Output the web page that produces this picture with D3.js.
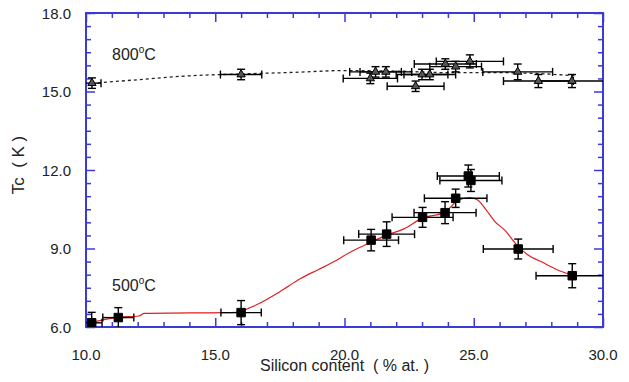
<!DOCTYPE html>
<html>
<head>
<meta charset="utf-8">
<script src="https://cdn.jsdelivr.net/npm/d3@7"></script>
<style>
  body { margin: 0; background: #fff; }
  svg text { font-family: Arial, "Liberation Sans", sans-serif; fill: #222; white-space: pre; }
</style>
</head>
<body>
<div class="chart"></div>
<script>
// data
const si800    = [10.23, 16.0, 21.0, 21.2, 21.6, 22.75, 23.0, 23.3, 23.9, 24.3, 24.85, 26.7, 27.5, 28.8];
const tc800    = [15.32, 15.65, 15.5, 15.75, 15.75, 15.2, 15.65, 15.65, 16.05, 15.95, 16.15, 15.75, 15.4, 15.4];
const siErr800 = [0.35, 0.8, 1.05, 1.0, 1.0, 1.1, 1.0, 1.0, 1.2, 1.0, 1.3, 1.35, 1.35, 1.3];
const tcErr800 = [0.2, 0.2, 0.2, 0.2, 0.2, 0.2, 0.2, 0.2, 0.2, 0.2, 0.25, 0.3, 0.25, 0.25];

const si500    = [10.22, 11.25, 16.0, 21.03, 21.63, 23.02, 23.89, 24.3, 24.79, 24.89, 26.72, 28.81];
const tc500    = [6.16, 6.36, 6.55, 9.32, 9.55, 10.19, 10.37, 10.92, 11.77, 11.6, 8.98, 7.96];
const siErr500 = [0.4, 0.6, 0.78, 1.06, 1.08, 1.18, 1.2, 1.21, 1.2, 1.2, 1.35, 1.4];
const tcErr500 = [0.4, 0.38, 0.46, 0.41, 0.47, 0.38, 0.42, 0.35, 0.42, 0.42, 0.38, 0.46];

// guide curves
const fitSi800 = [10.23, 12, 14, 16, 18, 20, 22, 24, 26, 28, 28.9];
const fitTc800 = [15.31, 15.45, 15.6, 15.67, 15.73, 15.8, 15.78, 15.72, 15.72, 15.66, 15.6];
const fitSi500 = [10.22, 11.2, 12.05, 12.25, 15.9, 16.3, 16.6, 17.5, 18.3, 19.0, 19.6, 20.2, 20.9, 21.6, 22.3, 23.0, 23.9, 24.4, 24.85, 25.15, 25.5, 25.8, 26.2, 26.7, 27.1, 27.6, 28.2, 28.8];
const fitTc500 = [6.18, 6.37, 6.42, 6.52, 6.56, 6.72, 6.85, 7.35, 7.85, 8.2, 8.5, 8.85, 9.18, 9.5, 9.75, 10.15, 10.4, 10.85, 10.95, 10.85, 10.45, 10.05, 9.7, 9.1, 8.75, 8.5, 8.2, 7.98];

const xMajor = [10, 15, 20, 25, 30];
const yMajor = [6, 9, 12, 15, 18];

// Constants
const W = 629, H = 382;
const margin = { top: 13, right: 26, bottom: 55, left: 86 },
    width = W - margin.left - margin.right,
    height = H - margin.top - margin.bottom;

const axisBlue = "#3a3ad8";

const x = d3.scaleLinear().domain([10, 30]).range([0, width]);
const y = d3.scaleLinear().domain([6, 18]).range([height, 0]);

const svg = d3.select(".chart").append("svg")
    .attr("width", W)
    .attr("height", H)
    .append("g")
    .attr("transform", "translate(" + margin.left + "," + margin.top + ")");

svg.append("clipPath").attr("id", "clip")
    .append("rect").attr("width", width).attr("height", height);

// inward ticks on all four sides
const xMinor = d3.range(10, 30.01, 1).filter(v => !xMajor.includes(v));
const yMinor = d3.range(6, 18.01, 0.5).filter(v => !yMajor.includes(v));

function tickAxis(axisFn, scale, values, len) {
    return axisFn(scale).tickValues(values).tickSize(-len).tickFormat("");
}

function styleAxis(g) {
    g.select(".domain").remove();
    g.selectAll(".tick line").attr("stroke", axisBlue).attr("stroke-width", 1.5);
}

[[xMinor, 5], [xMajor, 9]].forEach(([vals, len]) => {
    svg.append("g").attr("transform", "translate(0," + height + ")")
        .call(tickAxis(d3.axisBottom, x, vals, len)).call(styleAxis);
    svg.append("g")
        .call(tickAxis(d3.axisTop, x, vals, len)).call(styleAxis);
});
[[yMinor, 5], [yMajor, 9]].forEach(([vals, len]) => {
    svg.append("g")
        .call(tickAxis(d3.axisLeft, y, vals, len)).call(styleAxis);
    svg.append("g").attr("transform", "translate(" + width + ",0)")
        .call(tickAxis(d3.axisRight, y, vals, len)).call(styleAxis);
});

// frame
svg.append("rect")
    .attr("width", width).attr("height", height)
    .attr("fill", "none")
    .attr("stroke", axisBlue)
    .attr("stroke-width", 2);

// tick labels
svg.selectAll(".xlab").data(xMajor).enter().append("text")
    .attr("x", d => x(d))
    .attr("y", height + 33)
    .attr("text-anchor", "middle")
    .style("font-size", "15px")
    .text(d => d.toFixed(1));

svg.selectAll(".ylab").data(yMajor).enter().append("text")
    .attr("x", -15)
    .attr("y", d => y(d) + 5.5)
    .attr("text-anchor", "end")
    .style("font-size", "15px")
    .text(d => d.toFixed(1));

// axis titles
svg.append("text")
    .attr("x", x(20))
    .attr("y", height + 44)
    .attr("text-anchor", "middle")
    .style("font-size", "16px")
    .text("Silicon content  ( % at. )");

svg.append("text")
    .attr("transform", "translate(" + (-62) + "," + 152 + ") rotate(-90)")
    .attr("text-anchor", "middle")
    .style("font-size", "17px")
    .text("Tc  ( K )");

// guide lines
const line = d3.line().x(d => x(d[0])).y(d => y(d[1])).curve(d3.curveMonotoneX);

const plot = svg.append("g").attr("clip-path", "url(#clip)");

plot.append("path")
    .datum(fitSi800.map((s, i) => [s, fitTc800[i]]))
    .attr("d", line)
    .attr("fill", "none")
    .attr("stroke", "#222")
    .attr("stroke-width", 1.3)
    .attr("stroke-dasharray", "3,3");

plot.append("path")
    .datum(fitSi500.map((s, i) => [s, fitTc500[i]]))
    .attr("d", line)
    .attr("fill", "none")
    .attr("stroke", "#e02020")
    .attr("stroke-width", 1.2);

// error bars + markers
function drawSeries(si, tc, siErr, tcErr, symbol, size, fill) {
    const pts = si.map((s, i) => ({ s: s, t: tc[i], ds: siErr[i], dt: tcErr[i] }));
    const g = plot.append("g").attr("stroke", "#000").attr("stroke-width", 1.4);
    const cap = 4;

    pts.forEach(d => {
        const cx = x(d.s), cy = y(d.t);
        const xl = x(d.s - d.ds), xr = x(d.s + d.ds);
        const yt = y(d.t + d.dt), yb = y(d.t - d.dt);
        g.append("line").attr("x1", xl).attr("x2", xr).attr("y1", cy).attr("y2", cy);
        g.append("line").attr("x1", xl).attr("x2", xl).attr("y1", cy - cap).attr("y2", cy + cap);
        g.append("line").attr("x1", xr).attr("x2", xr).attr("y1", cy - cap).attr("y2", cy + cap);
        g.append("line").attr("x1", cx).attr("x2", cx).attr("y1", yt).attr("y2", yb);
        g.append("line").attr("x1", cx - cap).attr("x2", cx + cap).attr("y1", yt).attr("y2", yt);
        g.append("line").attr("x1", cx - cap).attr("x2", cx + cap).attr("y1", yb).attr("y2", yb);
    });

    plot.selectAll(null).data(pts).enter().append("path")
        .attr("d", d3.symbol().type(symbol).size(size))
        .attr("transform", d => "translate(" + x(d.s) + "," + y(d.t) + ")")
        .attr("fill", fill)
        .attr("stroke", "#000")
        .attr("stroke-width", 1);
}

drawSeries(si800, tc800, siErr800, tcErr800, d3.symbolTriangle, 30, "#555");
drawSeries(si500, tc500, siErr500, tcErr500, d3.symbolSquare, 72, "#000");

// series labels
function tempLabel(tx, ty, num) {
    const t = svg.append("text")
        .attr("x", tx).attr("y", ty)
        .style("font-size", "16px");
    t.append("tspan").text(num);
    t.append("tspan").attr("dy", -7).style("font-size", "10px").text("o");
    t.append("tspan").attr("dy", 7).text("C");
}
tempLabel(26, 47, "800");
tempLabel(26, 278, "500");
</script>
</body>
</html>
